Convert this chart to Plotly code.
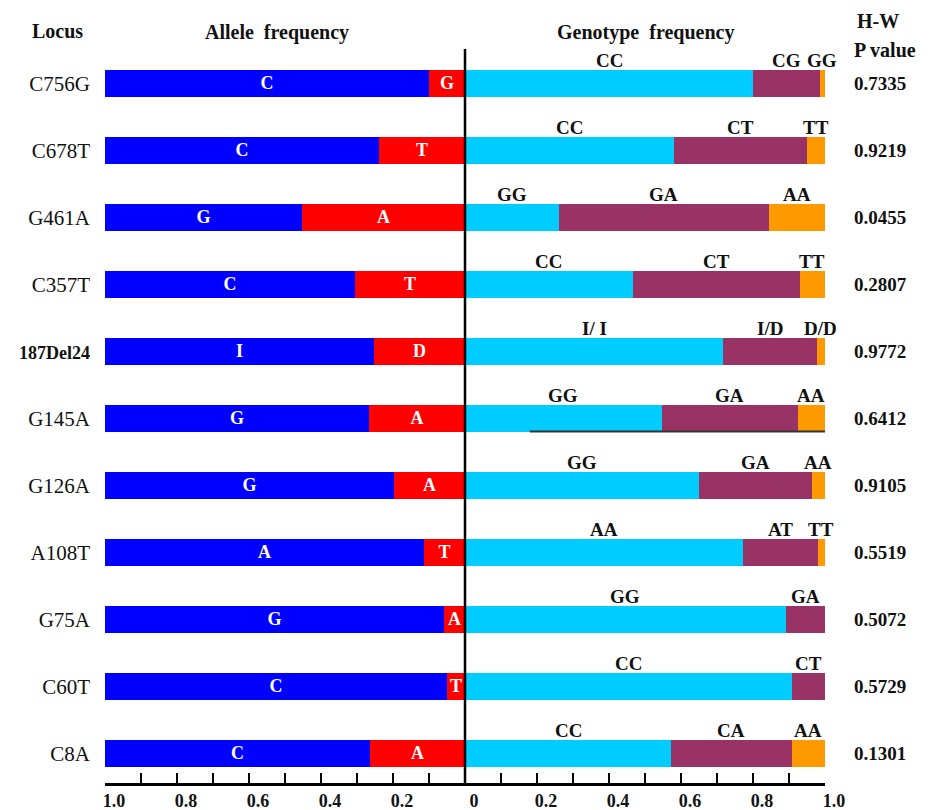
import plotly.graph_objects as go

# ---------------- data ----------------
loci = ["C756G", "C678T", "G461A", "C357T", "187Del24", "G145A",
        "G126A", "A108T", "G75A", "C60T", "C8A"]
major_allele = ["C", "C", "G", "C", "I", "G", "G", "A", "G", "C", "C"]
minor_allele = ["G", "T", "A", "T", "D", "A", "A", "T", "A", "T", "A"]
major_freq = [0.90, 0.76, 0.548, 0.695, 0.746, 0.734, 0.803, 0.885, 0.943, 0.951, 0.737]
minor_freq = [0.10, 0.24, 0.452, 0.305, 0.254, 0.266, 0.197, 0.115, 0.057, 0.049, 0.263]

geno1_label = ["CC", "CC", "GG", "CC", "I/ I", "GG", "GG", "AA", "GG", "CC", "CC"]
geno2_label = ["CG", "CT", "GA", "CT", "I/D", "GA", "GA", "AT", "GA", "CT", "CA"]
geno3_label = ["GG", "TT", "AA", "TT", "D/D", "AA", "AA", "TT", "", "", "AA"]
geno1 = [0.80, 0.58, 0.26, 0.466, 0.718, 0.547, 0.650, 0.773, 0.891, 0.909, 0.573]
geno2 = [0.185, 0.37, 0.585, 0.464, 0.259, 0.377, 0.313, 0.207, 0.109, 0.091, 0.334]
geno3 = [0.015, 0.05, 0.155, 0.07, 0.023, 0.076, 0.037, 0.02, 0.0, 0.0, 0.093]

p_values = ["0.7335", "0.9219", "0.0455", "0.2807", "0.9772", "0.6412",
            "0.9105", "0.5519", "0.5072", "0.5729", "0.1301"]

x_tickvals = [-1.0, -0.8, -0.6, -0.4, -0.2, 0.0, 0.2, 0.4, 0.6, 0.8, 1.0]
x_ticktext = ["1.0", "0.8", "0.6", "0.4", "0.2", "0", "0.2", "0.4", "0.6", "0.8", "1.0"]

# stray underline seen under the G145A genotype bar
underline_locus = "G145A"
underline_x = [0.18, 1.0]

# ---------------- style ----------------
SERIF = "Liberation Serif, Times New Roman, serif"
C_BLUE = "#0000FF"
C_RED = "#FF0000"
C_CYAN = "#00CCFF"
C_PURPLE = "#993366"
C_ORANGE = "#FF9900"
BAR_W = 0.40
# page body margin (8px) offsets the figure inside the 935x810 window
PAGE_PAD = 8

fig = go.Figure()

inside_font = dict(family=SERIF, size=18, color="white")

fig.add_trace(go.Bar(
    y=loci, x=[-v for v in minor_freq], orientation="h", width=BAR_W,
    marker=dict(color=C_RED, line=dict(width=0)),
    text=["<b>%s</b>" % t for t in minor_allele], textposition="inside",
    insidetextanchor="middle", insidetextfont=inside_font, showlegend=False,
))
fig.add_trace(go.Bar(
    y=loci, x=[-v for v in major_freq], orientation="h", width=BAR_W,
    marker=dict(color=C_BLUE, line=dict(width=0)),
    text=["<b>%s</b>" % t for t in major_allele], textposition="inside",
    insidetextanchor="middle", insidetextfont=inside_font, showlegend=False,
))
for vals, col in [(geno1, C_CYAN), (geno2, C_PURPLE), (geno3, C_ORANGE)]:
    fig.add_trace(go.Bar(
        y=loci, x=vals, orientation="h", width=BAR_W,
        marker=dict(color=col, line=dict(width=0)), showlegend=False,
    ))

# genotype labels above their segments
for i, loc in enumerate(loci):
    starts = [0.0, geno1[i], geno1[i] + geno2[i]]
    vals = [geno1[i], geno2[i], geno3[i]]
    labs = [geno1_label[i], geno2_label[i], geno3_label[i]]
    for s, v, lab in zip(starts, vals, labs):
        if not lab or v <= 0:
            continue
        fig.add_annotation(
            x=s + v / 2, y=loc, xref="x", yref="y", text="<b>%s</b>" % lab,
            showarrow=False, yanchor="bottom", xanchor="center", yshift=11,
            font=dict(family=SERIF, size=19, color="#111111"),
        )
    fig.add_annotation(
        x=(880 - 105) / 720, y=loc, xref="paper", yref="y", text="<b>%s</b>" % p_values[i],
        showarrow=False, xanchor="center", yanchor="middle",
        font=dict(family=SERIF, size=19, color="#111111"),
    )

# headers
hdr = dict(family=SERIF, size=20, color="#111111")
for txt, px, py in [("Locus", 57, 31), ("Allele  frequency", 277, 32),
                    ("Genotype  frequency", 645, 33), ("H-W", 878, 21),
                    ("P value", 885, 50)]:
    fig.add_annotation(
        x=(px - 105) / 720, y=(783 - py) / 734, xref="paper", yref="paper",
        text="<b>%s</b>" % txt.replace("  ", "&nbsp; "), showarrow=False,
        xanchor="center", yanchor="middle", font=hdr,
    )

# centre line
fig.add_shape(type="line", xref="x", yref="paper", x0=0, x1=0, y0=0, y1=1,
              line=dict(color="black", width=2.5), layer="above")
# stray underline
uy = loci.index(underline_locus) + 0.19
fig.add_shape(type="line", xref="x", yref="y", x0=underline_x[0], x1=underline_x[1],
              y0=uy, y1=uy, line=dict(color="#333333", width=2), layer="above")

ytext = []
for loc in loci:
    if loc == "187Del24":
        ytext.append("<b><span style='font-size:18px'>%s</span></b>" % loc)
    else:
        ytext.append(loc)

fig.update_layout(
    width=935 - PAGE_PAD, height=810 - PAGE_PAD,
    margin=dict(l=105 - PAGE_PAD, r=110, t=49 - PAGE_PAD, b=27, autoexpand=False),
    barmode="relative", bargap=0,
    plot_bgcolor="white", paper_bgcolor="white",
    font=dict(family=SERIF, color="#111111"),
    uniformtext=dict(minsize=16, mode="show"),
    xaxis=dict(
        range=[-1.0, 1.0], showgrid=False, zeroline=False, automargin=False,
        showline=True, linecolor="black", linewidth=2.5,
        tickmode="array", tickvals=x_tickvals,
        ticktext=["<b>%s</b>" % t for t in x_ticktext],
        ticks="inside", ticklen=10, tickwidth=2, tickcolor="black",
        ticklabelshift=9,
        tickfont=dict(family=SERIF, size=18, color="#111111"),
        minor=dict(dtick=0.1, tick0=0, ticks="inside", ticklen=10,
                   tickwidth=2, tickcolor="black", showgrid=False),
        fixedrange=True,
    ),
    yaxis=dict(
        type="category", range=[10.44, -0.52], showgrid=False, zeroline=False,
        automargin=False,
        showline=False, ticks="", tickmode="array", tickvals=loci, ticktext=ytext,
        ticklabelstandoff=14,
        tickfont=dict(family=SERIF, size=21, color="#111111"),
    ),
)

fig.write_html("out.html")
